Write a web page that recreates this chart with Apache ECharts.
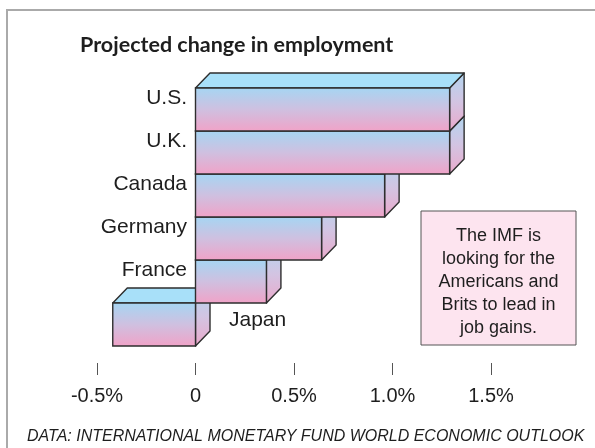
<!DOCTYPE html>
<html>
<head>
<meta charset="utf-8">
<script src="https://cdn.jsdelivr.net/npm/echarts@6/dist/echarts.min.js"></script>
<style>
html,body{margin:0;padding:0;background:#fff;}
#chart{width:595px;height:448px;}
</style>
</head>
<body>
<div id="chart"></div>
<script>
// Data (top to bottom as shown)
const categories = ['U.S.', 'U.K.', 'Canada', 'Germany', 'France', 'Japan'];
const values = [1.29, 1.29, 0.96, 0.64, 0.36, -0.42];
const tickValues = [-0.5, 0, 0.5, 1.0, 1.5];
const tickLabels = ['-0.5%', '0', '0.5%', '1.0%', '1.5%'];
const titleText = 'Projected change in employment';
const noteLines = ['The IMF is', 'looking for the', 'Americans and', 'Brits to lead in', 'job gains.'];
const sourceText = 'DATA: INTERNATIONAL MONETARY FUND WORLD ECONOMIC OUTLOOK';

// axis categories from bottom to top so lower bars are drawn first
const axisCats = categories.slice().reverse();
const seriesData = axisCats.map((c, i) => [values[categories.indexOf(c)], i]);

const DX = 14.5, DY = 15;
const frontGrad = () => new echarts.graphic.LinearGradient(0, 0, 0, 1, [
  {offset: 0, color: '#a5d6f3'},
  {offset: 0.5, color: '#cfc0e0'},
  {offset: 1, color: '#f1a2c7'}
]);
const sideGrad = () => new echarts.graphic.LinearGradient(0, 0, 0, 1, [
  {offset: 0, color: '#b2d6f0'},
  {offset: 0.5, color: '#d3c4e2'},
  {offset: 1, color: '#eba9cb'}
]);
const EDGE = '#2e2e2e';
const LW = 1.4;
const LABEL_FONT = '21px "Liberation Sans", Arial, sans-serif';

function renderItem(params, api) {
  const v = api.value(0);
  const ci = api.value(1);
  const p0 = api.coord([0, ci]);
  const p1 = api.coord([v, ci]);
  const h = api.size([0, 1])[1];
  const top = p0[1] - h / 2;
  const bot = top + h;
  const xl = Math.min(p0[0], p1[0]);
  const xr = Math.max(p0[0], p1[0]);
  const name = axisCats[ci];
  const children = [
    {type: 'polygon', shape: {points: [[xr, top], [xr + DX, top - DY], [xr + DX, bot - DY], [xr, bot]]},
     style: {fill: sideGrad(), stroke: EDGE, lineWidth: LW, lineJoin: 'round'}},
    {type: 'polygon', shape: {points: [[xl, top], [xl + DX, top - DY], [xr + DX, top - DY], [xr, top]]},
     style: {fill: '#a8e0f9', stroke: EDGE, lineWidth: LW, lineJoin: 'round'}},
    {type: 'rect', shape: {x: xl, y: top, width: xr - xl, height: h},
     style: {fill: frontGrad(), stroke: EDGE, lineWidth: LW}}
  ];
  if (v >= 0) {
    children.push({type: 'text', style: {x: 187, y: top + 10, text: name, fill: '#1e1e1e',
      font: LABEL_FONT, align: 'right', verticalAlign: 'middle'}});
  } else {
    children.push({type: 'text', style: {x: 229, y: top + 17, text: name, fill: '#1e1e1e',
      font: LABEL_FONT, align: 'left', verticalAlign: 'middle'}});
  }
  return {type: 'group', children: children};
}

const chart = echarts.init(document.getElementById('chart'), null, {renderer: 'canvas'});
chart.setOption({
  backgroundColor: '#ffffff',
  animation: false,
  title: {
    text: titleText, left: 80, top: 34, padding: 0,
    textStyle: {fontFamily: 'Lato, "Open Sans", sans-serif', fontWeight: 'bold', fontSize: 21.5, color: '#1e1e1e'}
  },
  grid: {left: 97, right: 104, top: 88, bottom: 102, containLabel: false},
  xAxis: {
    type: 'value', min: -0.5, max: 1.5, interval: 0.5, offset: 17,
    axisLine: {show: false},
    axisTick: {show: true, length: 12, lineStyle: {color: '#555', width: 1}},
    splitLine: {show: false},
    axisLabel: {
      margin: 23, color: '#1e1e1e', fontSize: 20, fontFamily: '"Liberation Sans", Arial, sans-serif',
      formatter: (val) => { const i = tickValues.findIndex(t => Math.abs(t - val) < 1e-9); return i >= 0 ? tickLabels[i] : ''; }
    }
  },
  yAxis: {
    type: 'category', data: axisCats,
    axisLine: {show: false}, axisTick: {show: false}, axisLabel: {show: false}, splitLine: {show: false}
  },
  series: [{
    type: 'custom', renderItem: renderItem, data: seriesData,
    encode: {x: 0, y: 1}, clip: false
  }],
  graphic: [
    {type: 'rect', shape: {x: 7, y: 10, width: 620, height: 480}, style: {fill: 'none', stroke: '#aaaaaa', lineWidth: 2}, silent: true},
    {type: 'rect', shape: {x: 421, y: 211, width: 155, height: 134}, style: {fill: '#fde4ef', stroke: '#555', lineWidth: 1}},
    {type: 'text', style: {x: 498.5, y: 282, text: noteLines.join('\n'), fill: '#1e1e1e', align: 'center', verticalAlign: 'middle',
      font: '18px "Liberation Sans", Arial, sans-serif', lineHeight: 22.8}},
    {type: 'text', style: {x: 27, y: 437, text: sourceText, fill: '#1e1e1e', align: 'left', verticalAlign: 'middle',
      font: 'italic 16px "Liberation Sans", Arial, sans-serif'}}
  ]
});
</script>
</body>
</html>
